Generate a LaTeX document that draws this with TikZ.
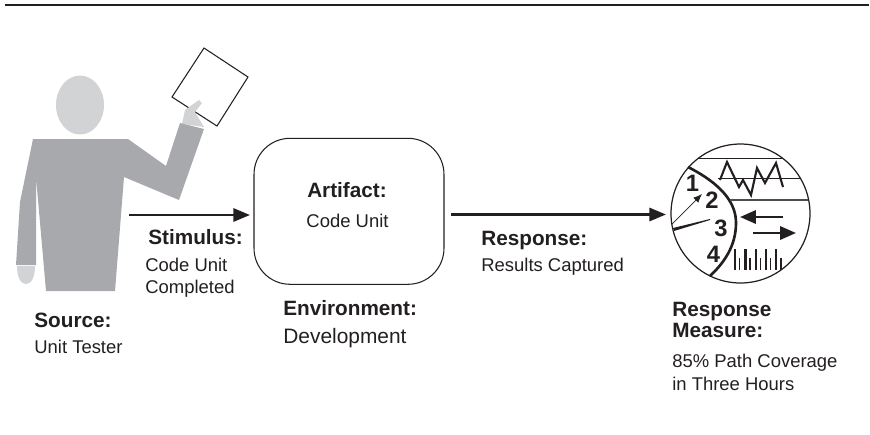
\documentclass[tikz,border=0pt]{standalone}
\usepackage{fontspec}
\setmainfont{Liberation Sans}
\usetikzlibrary{positioning}
\usetikzlibrary{arrows.meta}
\definecolor{bodygray}{RGB}{167,169,172}
\definecolor{skingray}{RGB}{209,211,212}
\definecolor{inkblack}{RGB}{35,31,32}
\tikzset{
  headline/.style={font=\fontsize{11.8}{13}\selectfont\bfseries, anchor=base west, inner sep=0pt, text=inkblack},
  bodyline/.style={font=\fontsize{10.5}{12}\selectfont, anchor=base west, inner sep=0pt, text=inkblack},
  flowarrow/.style={line width=1.5pt, draw=inkblack, -{Triangle[length=9.5pt,width=7.5pt]}},
  dialarrow/.style={line width=1.4pt, draw=inkblack, -{Triangle[length=9pt,width=7.5pt]}},
  dial/.style={font=\fontsize{13.5}{15}\selectfont\bfseries, inner sep=0pt, text=inkblack},
}
\begin{document}
\begin{tikzpicture}[x=0.02cm,y=-0.02cm]
\useasboundingbox (0,0) rectangle (870,434);
\draw[line width=1pt, inkblack] (5,5) -- (869,5);

% person
\fill[skingray] (80,105) ellipse (24 and 29.5);
\draw[line width=0.6pt, inkblack] (204,48) -- (248,77) -- (217,126) -- (172,97) -- cycle;
\fill[skingray] (182,124) -- (185,110) -- (199,100) -- (202,103) -- (195,112) -- (204,127) -- cycle;
\fill[bodygray] (33,139) -- (128,139) -- (166,166) -- (180,123) -- (204,129) -- (179,200) -- (124,177)
  -- (115,291) -- (46,291) -- (36,177) -- (36,265) -- (16,265) -- (20,202) -- cycle;
\fill[skingray] (17,266) -- (35,266) .. controls (35,278) and (31,284) .. (26,284) .. controls (21,284) and (17,278) .. (17,266);

% boxes
\node[draw=inkblack, line width=0.6pt, rounded corners=0.72cm, minimum width=3.8cm, minimum height=2.92cm, inner sep=0pt] (artifact) at (349,211.3) {};
\node[draw=inkblack, line width=0.7pt, circle, minimum size=2.78cm, inner sep=0pt] (measure) at (740.5,213.5) {};

\coordinate (stimstart) at (129,215);
\coordinate (respstart) at (451,214.5);
\coordinate (artin) at (250,215);
\coordinate (measin) at (666,214.5);
\draw[flowarrow] (stimstart) -- (artin);
\draw[flowarrow] (respstart) -- (measin);

% dial
\draw[line width=1.5pt, inkblack] (688,167) .. controls (725,186) and (736,205) .. (736,223) .. controls (736,245) and (725,262) .. (710,276);
\draw[line width=0.5pt, inkblack] (698,158) -- (782,158);
\draw[line width=0.5pt, inkblack] (718,178) -- (800,178);
\draw[line width=1pt, black!70] (730,200) -- (808,200);
\draw[line width=1.2pt, inkblack, line join=miter] (720,180) -- (727,162) -- (739,187) -- (743,180) -- (751,195) -- (757,168) -- (765,183) -- (776,163) -- (783,187);
\draw[line width=0.4pt, inkblack, -{Latex[length=5pt,width=4pt]}] (672,224) -- (702,194);
\fill[inkblack] (673,228) -- (710,219) -- (710,220) -- (674,231) -- cycle;
\node[dial] (one) at (692.5,183) {1};
\node[dial] (two) at (712,200) {2};
\node[dial] (three) at (721,228) {3};
\node[dial] (four) at (713.5,254) {4};
\coordinate (leftstart) at (783,217);
\coordinate (leftend) at (740,217);
\coordinate (rightstart) at (753,233);
\coordinate (rightend) at (796,233);
\draw[dialarrow] (leftstart) -- (leftend);
\draw[dialarrow] (rightstart) -- (rightend);
\foreach \xbar/\ybar/\wbar in {735/249/1.7,739.5/258/1,745.5/249/1.7,750/258/1,756/249/1.7,760.5/258/1,766/249/1.7,770.5/258/1,776/249/1.7,781/258/1}
  \draw[line width=\wbar pt, inkblack] (\xbar,\ybar) -- (\xbar,270);

% labels
\node[headline] (stimlabel) at (148,244) {Stimulus:};
\node[bodyline] (stimtext) at (145,271.5) {Code Unit};
\node[bodyline] (stimtexttwo) at (145,293.5) {Completed};
\node[headline] (sourcelabel) at (34,327) {Source:};
\node[bodyline] (sourcetext) at (34,353) {Unit Tester};
\node[headline, anchor=base] (artlabel) at (347,197.5) {Artifact:};
\node[bodyline, anchor=base] (arttext) at (347.5,227) {Code Unit};
\node[headline] (envlabel) at (283,315) {Environment:};
\node[bodyline, font=\fontsize{11.9}{14}\selectfont] (envtext) at (283,343) {Development};
\node[headline] (resplabel) at (481,245) {Response:};
\node[bodyline] (resptext) at (481,271) {Results Captured};
\node[headline] (measlabel) at (672,316) {Response};
\node[headline] (measlabeltwo) at (672,337) {Measure:};
\node[bodyline] (meastext) at (672,367) {85\% Path Coverage};
\node[bodyline] (meastexttwo) at (672,390) {in Three Hours};
\end{tikzpicture}
\end{document}
